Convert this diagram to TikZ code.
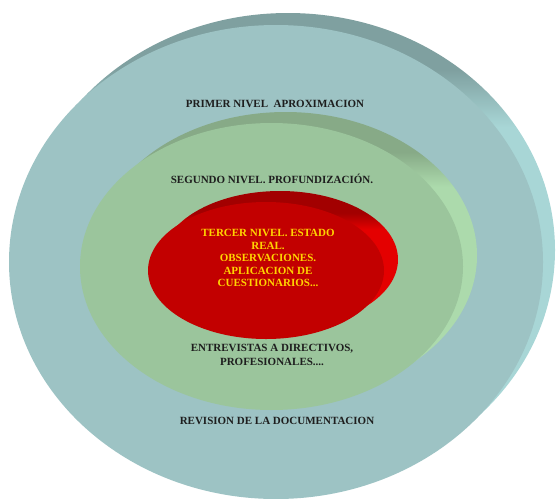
\documentclass[tikz,border=0pt]{standalone}
\usepackage{fontspec}
\setmainfont{Liberation Serif}

\definecolor{tealface}{HTML}{9DC3C4}
\definecolor{tealdark}{HTML}{7FA0A0}
\definecolor{teallight}{HTML}{A8D6D6}
\definecolor{greenface}{HTML}{9BC59C}
\definecolor{greendark}{HTML}{87AA87}
\definecolor{greenlight}{HTML}{ACDAAC}
\definecolor{redface}{HTML}{C20000}
\definecolor{reddark}{HTML}{A20000}
\definecolor{redlight}{HTML}{E40000}
\definecolor{textgray}{HTML}{1E1E1E}
\definecolor{textyellow}{HTML}{FFD400}

% rims: dark on top, light on the right side
\pgfdeclareverticalshading{tealrim}{100bp}{color(0bp)=(teallight); color(63bp)=(teallight); color(69bp)=(tealdark); color(100bp)=(tealdark)}
\pgfdeclareverticalshading{greenrim}{100bp}{color(0bp)=(greenlight); color(62bp)=(greenlight); color(68bp)=(greendark); color(100bp)=(greendark)}
\pgfdeclareverticalshading{redrim}{100bp}{color(0bp)=(redlight); color(61bp)=(redlight); color(67bp)=(reddark); color(100bp)=(reddark)}

\tikzset{
  level text/.style={font=\bfseries\fontsize{11}{12.5}\selectfont, text=textgray, align=center, inner sep=0pt}
}

\begin{document}
\begin{tikzpicture}[x=1pt,y=-1pt]
        \useasboundingbox (0,0) rectangle (556,498);
        % first level: back rim and front face
        \shade[shading=tealrim] (288,250) ellipse (267 and 237);
        \fill[tealface] (276,262) ellipse (267 and 237);
        % second level
        \shade[shading=greenrim] (285.5,255.5) ellipse (191.5 and 143.5);
        \fill[greenface] (271.5,266.5) ellipse (191.5 and 143.5);
        % third level
        \shade[shading=redrim] (280,259.5) ellipse (118 and 68.5);
        \fill[redface] (266,270.5) ellipse (118 and 68.5);

        % texts of the levels
        \node[level text] (primer) at (275,104) {PRIMER NIVEL\ \ APROXIMACION};
        \node[level text] (segundo) at (272,179) {SEGUNDO NIVEL. PROFUNDIZACIÓN.};
        \node[level text, text=textyellow] (tercer) at (268,258) {TERCER NIVEL. ESTADO\\REAL.\\OBSERVACIONES.\\APLICACION DE\\CUESTIONARIOS...};
        \node[level text] (entrevistas) at (272,355) {ENTREVISTAS A DIRECTIVOS,\\[1.5pt]PROFESIONALES....};
        \node[level text] (revision) at (277,421) {REVISION DE LA DOCUMENTACION};

    \end{tikzpicture}
\end{document}
